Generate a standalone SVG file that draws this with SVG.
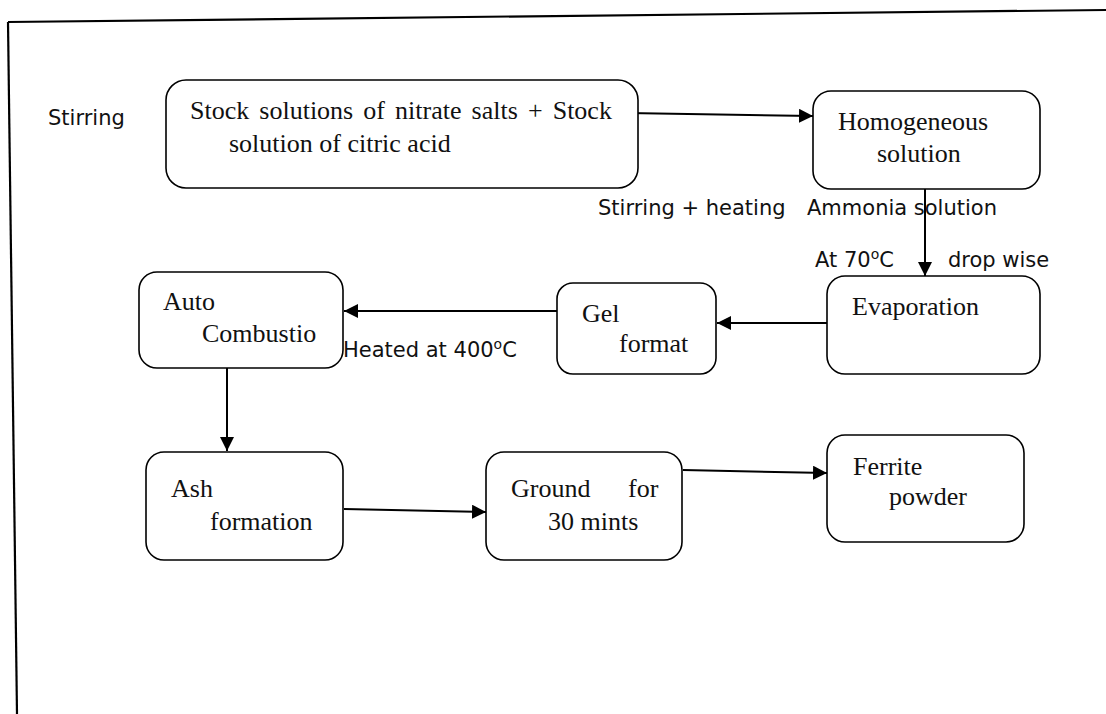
<svg xmlns="http://www.w3.org/2000/svg" width="1106" height="714" viewBox="0 0 1106 714">
<style>
.box{fill:#fff;stroke:#000;stroke-width:1.6}
.t{font-family:"Liberation Serif","Times New Roman",serif;font-size:26px;fill:#111}
.l{font-family:"DejaVu Sans",Verdana,sans-serif;font-size:21px;fill:#111}
.c{fill:none;stroke:#000;stroke-width:2}
.f{fill:none;stroke:#000;stroke-width:2.2}
</style>
<defs>
<marker id="ah" markerUnits="userSpaceOnUse" markerWidth="14" markerHeight="14" viewBox="0 0 14 14" refX="14" refY="7" orient="auto">
<path d="M0,0 L14,7 L0,14 Z" fill="#000"/>
</marker>
</defs>
<rect width="1106" height="714" fill="#fff"/>
<g id="frame">
<line class="f" x1="8" y1="22" x2="1106" y2="10"/>
<line class="f" x1="8" y1="22" x2="17" y2="714"/>
</g>
<g id="connectors">
<line class="c" x1="627" y1="113" x2="813" y2="116" marker-end="url(#ah)"/>
<line class="c" x1="925" y1="165" x2="925" y2="276" marker-end="url(#ah)"/>
<line class="c" x1="827" y1="323" x2="717" y2="323" marker-end="url(#ah)"/>
<line class="c" x1="557" y1="311" x2="344" y2="311" marker-end="url(#ah)"/>
<line class="c" x1="227" y1="353" x2="227" y2="451" marker-end="url(#ah)"/>
<line class="c" x1="344" y1="509" x2="486" y2="512" marker-end="url(#ah)"/>
<line class="c" x1="683" y1="470" x2="827" y2="473" marker-end="url(#ah)"/>
</g>
<g id="labels">
<text class="l" x="48" y="125">Stirring</text>
<text class="l" x="598" y="215">Stirring + heating</text>
<text class="l" x="807" y="215">Ammonia solution</text>
<text class="l" x="815" y="267">At 70<tspan font-size="14" dy="-8">o</tspan><tspan dy="8">C</tspan></text>
<text class="l" x="948" y="267">drop wise</text>
<text class="l" x="343" y="357">Heated at 400<tspan font-size="14" dy="-8">o</tspan><tspan dy="8">C</tspan></text>
</g>
<g id="stock">
<rect class="box" x="166" y="80" width="472" height="108" rx="20"/>
<text class="t" x="190" y="119" word-spacing="3.6">Stock solutions of nitrate salts + Stock</text>
<text class="t" x="229" y="152">solution of citric acid</text>
</g>
<g id="homogeneous">
<rect class="box" x="813" y="91" width="227" height="98" rx="18"/>
<text class="t" x="838" y="130">Homogeneous</text>
<text class="t" x="877" y="162">solution</text>
</g>
<g id="evaporation">
<rect class="box" x="827" y="276" width="213" height="98" rx="18"/>
<text class="t" x="852" y="315">Evaporation</text>
</g>
<g id="gel">
<rect class="box" x="557" y="283" width="159" height="91" rx="16"/>
<text class="t" x="582" y="322">Gel</text>
<text class="t" x="619" y="352">format</text>
</g>
<g id="auto">
<rect class="box" x="139" y="272" width="204" height="96" rx="18"/>
<text class="t" x="163" y="310">Auto</text>
<text class="t" x="202" y="342">Combustio</text>
</g>
<g id="ash">
<rect class="box" x="146" y="452" width="197" height="108" rx="18"/>
<text class="t" x="171" y="497">Ash</text>
<text class="t" x="210" y="530">formation</text>
</g>
<g id="ground">
<rect class="box" x="486" y="452" width="196" height="108" rx="18"/>
<text class="t" x="511" y="497">Ground</text>
<text class="t" x="628" y="497">for</text>
<text class="t" x="548" y="530">30 mints</text>
</g>
<g id="ferrite">
<rect class="box" x="827" y="435" width="197" height="107" rx="18"/>
<text class="t" x="853" y="475">Ferrite</text>
<text class="t" x="889" y="505">powder</text>
</g>
</svg>
